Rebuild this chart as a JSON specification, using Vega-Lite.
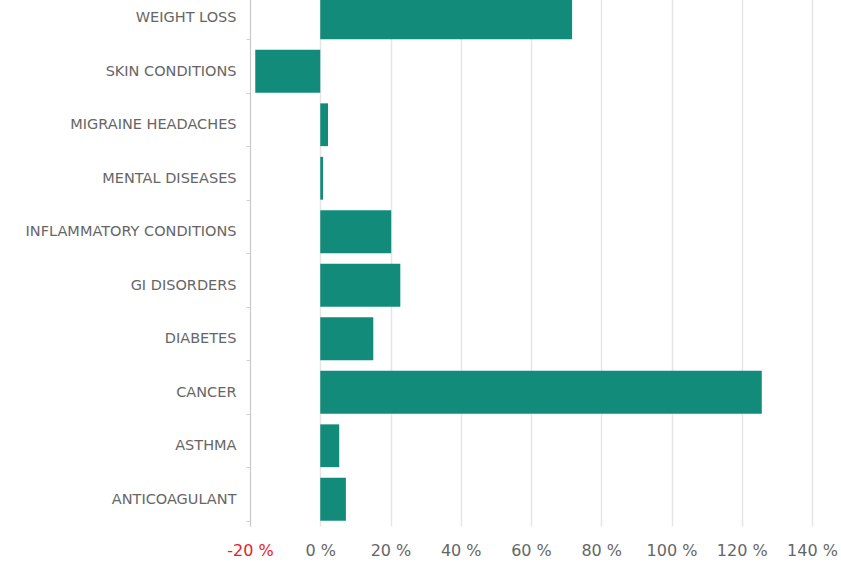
{
  "$schema": "https://vega.github.io/schema/vega-lite/v6.json",
  "autosize": {"type": "none"},
  "padding": {"left": 250, "top": -9, "right": 29, "bottom": 39},
  "width": 562,
  "height": 535,
  "background": "white",
  "config": {"view": {"stroke": null}},
  "data": {
    "values": [
      {"category": "WEIGHT LOSS", "value": 71.7},
      {"category": "SKIN CONDITIONS", "value": -18.5},
      {"category": "MIGRAINE HEADACHES", "value": 2.2},
      {"category": "MENTAL DISEASES", "value": 0.8},
      {"category": "INFLAMMATORY CONDITIONS", "value": 20.2},
      {"category": "GI DISORDERS", "value": 22.8},
      {"category": "DIABETES", "value": 15.1},
      {"category": "CANCER", "value": 125.7},
      {"category": "ASTHMA", "value": 5.4},
      {"category": "ANTICOAGULANT", "value": 7.3}
    ]
  },
  "mark": {"type": "bar", "color": "#138b7b"},
  "encoding": {
    "y": {
      "field": "category",
      "type": "nominal",
      "sort": null,
      "scale": {"paddingInner": 0.2, "paddingOuter": 0.1},
      "axis": {
        "title": null,
        "domain": true,
        "domainColor": "#c8c8c8",
        "ticks": true,
        "tickBand": "extent",
        "tickSize": 4,
        "tickColor": "#d0d0d0",
        "labelPadding": 10,
        "labelLimit": 300,
        "labelFont": "DejaVu Sans",
        "labelFontSize": 14.5,
        "labelColor": "#666666",
        "grid": false
      }
    },
    "x": {
      "field": "value",
      "type": "quantitative",
      "scale": {"domain": [-20, 140], "nice": false},
      "axis": {
        "title": null,
        "values": [-20, 0, 20, 40, 60, 80, 100, 120, 140],
        "labelExpr": "datum.value + ' %'",
        "labelOverlap": false,
        "labelFlush": false,
        "labelBound": false,
        "domain": false,
        "ticks": false,
        "grid": true,
        "gridColor": "#e6e6e6",
        "gridWidth": 1.5,
        "labelPadding": 16,
        "labelFont": "DejaVu Sans",
        "labelFontSize": 16,
        "labelColor": {"condition": {"test": "datum.value < 0", "value": "#e8202a"}, "value": "#666666"}
      }
    }
  }
}
